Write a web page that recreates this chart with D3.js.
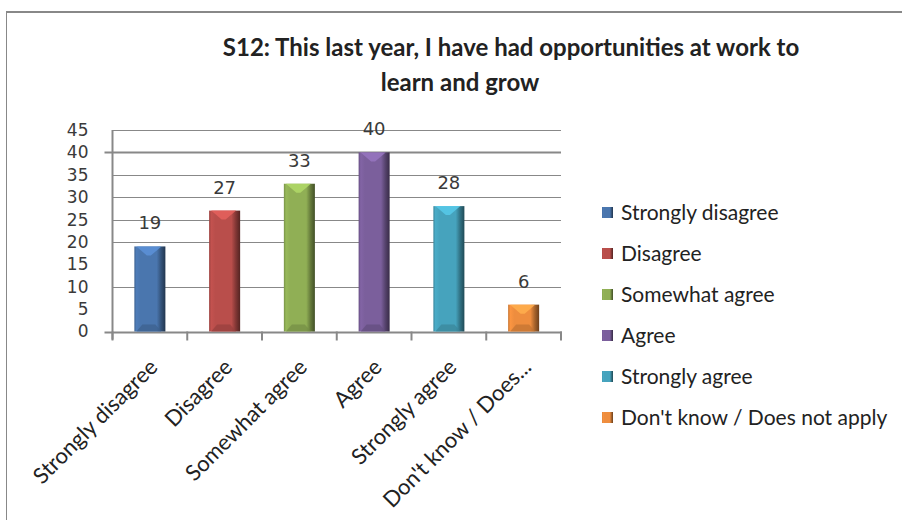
<!DOCTYPE html>
<html>
<head>
<meta charset="utf-8">
<script src="https://cdn.jsdelivr.net/npm/d3@7"></script>
<style>
  html, body { margin: 0; padding: 0; background: #fff; }
  svg { display: block; }
</style>
</head>
<body>
<svg id="chart" width="902" height="520"></svg>
<script>
// ---- data ----
const titleLines = ["S12: This last year, I have had opportunities at work to", "learn and grow"];
const categories = ["Strongly disagree", "Disagree", "Somewhat agree", "Agree", "Strongly agree", "Don't know / Does not apply"];
const axisLabels = ["Strongly disagree", "Disagree", "Somewhat agree", "Agree", "Strongly agree", "Don't know / Does..."];
const values = [19, 27, 33, 40, 28, 6];
const colors = ["#4a76ae", "#b94e4b", "#90af55", "#7b5f9c", "#46a3bd", "#ee8d3e"];
const yTicks = [0, 5, 10, 15, 20, 25, 30, 35, 40, 45];
const gridValues = [10, 20, 25, 30, 35, 40, 45];
const strongGrid = [40];

// ---- layout ----
const svg = d3.select("#chart");
const W = 902, H = 520;
const plot = { left: 112.5, right: 561, top: 130, bottom: 331.5 };
const axisColor = "#888888";

// outer border (top + left)
svg.append("line").attr("x1", 6).attr("x2", W).attr("y1", 12).attr("y2", 12)
  .attr("stroke", axisColor).attr("stroke-width", 2);
svg.append("line").attr("x1", 6.5).attr("x2", 6.5).attr("y1", 11).attr("y2", H)
  .attr("stroke", axisColor).attr("stroke-width", 1);

// title
const titleX = [511, 460];
svg.append("g").selectAll("text").data(titleLines).join("text")
  .attr("x", (d, i) => titleX[i])
  .attr("y", (d, i) => 56 + i * 35)
  .attr("text-anchor", "middle")
  .attr("font-family", "Lato, 'Open Sans', sans-serif")
  .attr("font-weight", "bold")
  .attr("font-size", 24)
  .attr("fill", "#222")
  .text(d => d);

const x = d3.scaleBand().domain(categories).range([plot.left, plot.right])
  .paddingInner(0.585).paddingOuter(0.2925);
const y = d3.scaleLinear().domain([0, 45]).range([plot.bottom, plot.top]);

// gradients
const defs = svg.append("defs");
colors.forEach((c, i) => {
  const base = d3.color(c);
  const g = defs.append("linearGradient").attr("id", "g" + i)
    .attr("x1", "0%").attr("x2", "100%").attr("y1", "0%").attr("y2", "0%");
  const stops = [
    [0, base.darker(0.5)],
    [0.07, base.brighter(0.15)],
    [0.2, base],
    [0.72, base],
    [0.86, base.darker(1.0)],
    [1, base.darker(2.2)]
  ];
  stops.forEach(s => g.append("stop").attr("offset", s[0]).attr("stop-color", s[1].formatHex()));
});

// gridlines
svg.append("g").selectAll("line").data(gridValues).join("line")
  .attr("x1", d => strongGrid.includes(d) ? plot.left - 8 : plot.left)
  .attr("x2", plot.right)
  .attr("y1", d => Math.round(y(d)) + 0.5)
  .attr("y2", d => Math.round(y(d)) + 0.5)
  .attr("stroke", axisColor)
  .attr("stroke-width", d => strongGrid.includes(d) ? 2 : 1);

// y axis
const yAxis = d3.axisLeft(y).tickValues(yTicks).tickSize(0).tickPadding(24);
const yg = svg.append("g").attr("transform", `translate(${plot.left},0)`).call(yAxis);
yg.select(".domain").remove();
yg.selectAll("text")
  .attr("font-family", "'DejaVu Sans', sans-serif")
  .attr("font-size", 17)
  .attr("fill", "#3a3a3a");
svg.append("line").attr("x1", plot.left).attr("x2", plot.left)
  .attr("y1", plot.top).attr("y2", plot.bottom + 8)
  .attr("stroke", axisColor).attr("stroke-width", 2);

// x axis line + ticks
svg.append("line").attr("x1", plot.left - 8).attr("x2", plot.right + 1)
  .attr("y1", plot.bottom + 1).attr("y2", plot.bottom + 1)
  .attr("stroke", axisColor).attr("stroke-width", 2);
const tickPos = categories.map(c => x(c) - x.step() * x.paddingInner() / 2).concat([plot.right]);
svg.append("g").selectAll("line").data(tickPos).join("line")
  .attr("x1", d => d).attr("x2", d => d)
  .attr("y1", plot.bottom).attr("y2", plot.bottom + 9)
  .attr("stroke", axisColor).attr("stroke-width", 2);

// bars
const bars = svg.append("g").selectAll("g").data(categories).join("g");
bars.each(function (c, i) {
  const g = d3.select(this);
  const bx = x(c), bw = x.bandwidth();
  const top = y(values[i]), bot = y(0);
  const base = d3.color(colors[i]);
  g.append("rect").attr("x", bx).attr("y", top).attr("width", bw).attr("height", bot - top)
    .attr("fill", `url(#g${i})`);
  const bev = Math.min(9, (bot - top) / 2);
  g.append("polygon")
    .attr("points", [[bx + 2, top], [bx + bw - 4, top], [bx + bw / 2 + 1, top + bev], [bx + bw / 2 - 3, top + bev]].map(p => p.join(",")).join(" "))
    .attr("fill", base.brighter(0.6).formatHex()).attr("opacity", 0.85);
  g.append("polygon")
    .attr("points", [[bx + 2, bot], [bx + bw - 4, bot], [bx + bw - 10, bot - 7], [bx + 8, bot - 7]].map(p => p.join(",")).join(" "))
    .attr("fill", base.darker(0.6).formatHex()).attr("opacity", 0.7);
});

// value labels
svg.append("g").selectAll("text").data(categories).join("text")
  .attr("x", c => x(c) + x.bandwidth() / 2)
  .attr("y", (c, i) => y(values[i]) - 17)
  .attr("text-anchor", "middle")
  .attr("font-family", "'DejaVu Sans', sans-serif")
  .attr("font-size", 18)
  .attr("fill", "#3a3a3a")
  .text((c, i) => values[i]);

// category labels
svg.append("g").selectAll("text").data(categories).join("text")
  .attr("transform", c => `translate(${x(c) + x.bandwidth() / 2 + 9},${plot.bottom + 37}) rotate(-45)`)
  .attr("text-anchor", "end")
  .attr("font-family", "Lato, 'Open Sans', sans-serif")
  .attr("font-size", 22)
  .attr("fill", "#222")
  .text((c, i) => axisLabels[i]);

// legend
const legend = svg.append("g").selectAll("g").data(categories).join("g")
  .attr("transform", (c, i) => `translate(602,${213 + i * 41})`);
legend.append("rect").attr("x", 0).attr("y", -6).attr("width", 11).attr("height", 11)
  .attr("fill", (c, i) => `url(#g${i})`);
legend.append("text").attr("x", 19).attr("y", 0).attr("dy", "0.35em")
  .attr("font-family", "Lato, 'Open Sans', sans-serif")
  .attr("font-size", 21)
  .attr("fill", "#222")
  .text(c => c);
</script>
</body>
</html>
